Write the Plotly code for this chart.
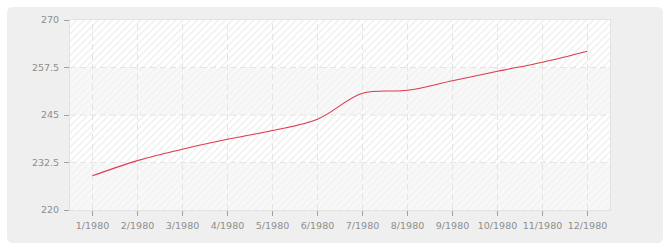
import plotly.graph_objects as go

# ---- data ----
months = ["1/1980", "2/1980", "3/1980", "4/1980", "5/1980", "6/1980",
          "7/1980", "8/1980", "9/1980", "10/1980", "11/1980", "12/1980"]
values = [229.0, 233.0, 236.0, 238.6, 240.9, 243.9,
          250.7, 251.5, 254.0, 256.5, 258.9, 261.8]
y_ticks = [220, 232.5, 245, 257.5, 270]
y_tick_labels = ["220", "232.5", "245", "257.5", "270"]

# ---- layout geometry (pixels) ----
W, H = 670, 250
ML, MR, MT, MB = 70, 60, 20, 40
PW, PH = W - ML - MR, H - MT - MB


def px(xp):
    return (xp - ML) / PW


def py(yp):
    return (H - MB - yp) / PH


fig = go.Figure()

# background bands (alternating grey / hatched) on the base (numeric) x axis
for i in range(len(y_ticks) - 1):
    lo, hi = y_ticks[i], y_ticks[i + 1]
    grey = (i % 2 == 0)
    fig.add_trace(go.Bar(
        x=[0.5], y=[hi - lo], base=[lo], width=[1.0],
        xaxis="x", yaxis="y",
        marker=dict(
            color="#f8f8f8" if grey else "#ffffff",
            line=dict(width=0),
            pattern=dict(shape="/", size=5, solidity=0.2,
                         fgcolor="#f0f0f0" if grey else "#e9e9e9",
                         bgcolor="#f8f8f8" if grey else "#ffffff",
                         fillmode="replace"),
        ),
        hoverinfo="skip", showlegend=False,
    ))

# horizontal dashed grid lines
hx, hy = [], []
for t in y_ticks[1:-1]:
    hx += [0, 1, None]
    hy += [t, t, None]
fig.add_trace(go.Scatter(x=hx, y=hy, xaxis="x", mode="lines",
                         line=dict(color="#e4e4e4", width=1, dash="6px,4px"),
                         hoverinfo="skip", showlegend=False))

# vertical dashed grid lines (one per category) on the category axis
gx, gy = [], []
for m in months:
    gx += [m, m, None]
    gy += [y_ticks[0], y_ticks[-1], None]
fig.add_trace(go.Scatter(x=gx, y=gy, xaxis="x2", mode="lines",
                         line=dict(color="#e4e4e4", width=1, dash="6px,4px"),
                         hoverinfo="skip", showlegend=False))

# data line
fig.add_trace(go.Scatter(x=months, y=values, xaxis="x2", mode="lines",
                         line=dict(color="#dd3a4c", width=1.1, shape="spline", smoothing=1.0),
                         showlegend=False))

# outer rounded panel
x0, x1, y0, y1 = 7, 663, 7, 243
r = 6
path = (
    f"M {px(x0 + r)},{py(y0)} L {px(x1 - r)},{py(y0)} "
    f"Q {px(x1)},{py(y0)} {px(x1)},{py(y0 + r)} "
    f"L {px(x1)},{py(y1 - r)} Q {px(x1)},{py(y1)} {px(x1 - r)},{py(y1)} "
    f"L {px(x0 + r)},{py(y1)} Q {px(x0)},{py(y1)} {px(x0)},{py(y1 - r)} "
    f"L {px(x0)},{py(y0 + r)} Q {px(x0)},{py(y0)} {px(x0 + r)},{py(y0)} Z"
)

tick_font = dict(family="DejaVu Sans", size=9.5, color="#8e8e8e")

fig.update_layout(
    width=W, height=H,
    margin=dict(l=ML, r=MR, t=MT, b=MB, pad=0),
    paper_bgcolor="#ffffff",
    plot_bgcolor="#ffffff",
    barmode="overlay",
    bargap=0,
    font=tick_font,
    shapes=[dict(type="path", path=path, xref="paper", yref="paper",
                 fillcolor="#efefef", line=dict(width=0), layer="below")],
    xaxis=dict(
        range=[0, 1], showticklabels=False, ticks="",
        showgrid=False, zeroline=False, fixedrange=True,
        showline=True, linecolor="#e2e2e2", linewidth=1, mirror=True,
    ),
    xaxis2=dict(
        type="category", categoryorder="array", categoryarray=months,
        range=[-0.5, len(months) - 0.5],
        overlaying="x", anchor="y", side="bottom",
        showgrid=False, zeroline=False, showline=False,
        ticks="outside", ticklen=5, tickcolor="#a0a0a0", tickwidth=1,
        ticklabelstandoff=2,
        tickfont=tick_font,
    ),
    yaxis=dict(
        range=[y_ticks[0], y_ticks[-1]],
        tickvals=y_ticks, ticktext=y_tick_labels,
        showgrid=False, zeroline=False,
        showline=True, linecolor="#e2e2e2", linewidth=1, mirror=True,
        ticks="outside", ticklen=5, tickcolor="#a0a0a0", tickwidth=1,
        ticklabelstandoff=3,
        tickfont=tick_font,
    ),
)

fig.write_html("out.html")
